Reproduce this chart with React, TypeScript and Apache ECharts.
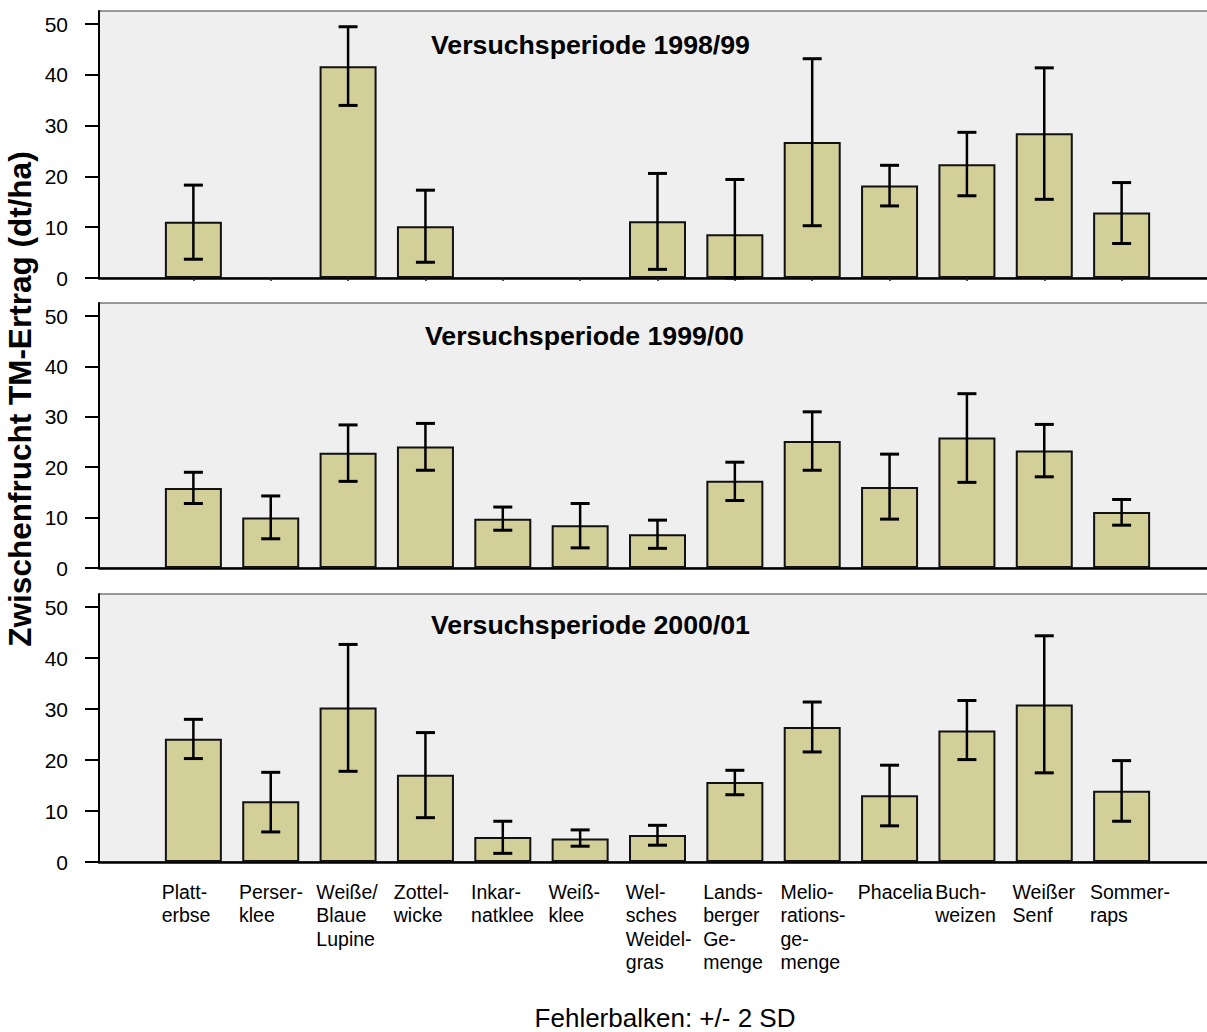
import React, { useEffect, useRef } from "react";
import * as echarts from "echarts";

const CATEGORIES = [
  "Platt-\nerbse",
  "Perser-\nklee",
  "Weiße/\nBlaue\nLupine",
  "Zottel-\nwicke",
  "Inkar-\nnatklee",
  "Weiß-\nklee",
  "Wel-\nsches\nWeidel-\ngras",
  "Lands-\nberger\nGe-\nmenge",
  "Melio-\nrations-\nge-\nmenge",
  "Phacelia",
  "Buch-\nweizen",
  "Weißer\nSenf",
  "Sommer-\nraps",
];

const PERIODS = ["Versuchsperiode 1998/99", "Versuchsperiode 1999/00", "Versuchsperiode 2000/01"];

const MEAN_9899 = [11.1, null, 41.7, 10.2, null, null, 11.2, 8.6, 26.8, 18.2, 22.4, 28.5, 12.9];
const LOW_9899 = [3.7, null, 34.0, 3.1, null, null, 1.7, 0, 10.3, 14.2, 16.2, 15.5, 6.8];
const HIGH_9899 = [18.3, null, 49.5, 17.3, null, null, 20.6, 19.4, 43.2, 22.2, 28.7, 41.4, 18.8];

const MEAN_9900 = [15.9, 10.0, 22.9, 24.1, 9.8, 8.5, 6.7, 17.3, 25.2, 16.1, 25.9, 23.3, 11.1];
const LOW_9900 = [12.8, 5.8, 17.2, 19.4, 7.5, 4.0, 3.9, 13.4, 19.4, 9.7, 17.0, 18.1, 8.5];
const HIGH_9900 = [19.0, 14.3, 28.4, 28.7, 12.1, 12.8, 9.5, 21.0, 31.0, 22.6, 34.6, 28.5, 13.6];

const MEAN_0001 = [24.2, 11.9, 30.3, 17.1, 4.9, 4.6, 5.3, 15.7, 26.5, 13.1, 25.8, 30.9, 14.0];
const LOW_0001 = [20.3, 5.9, 17.8, 8.7, 1.7, 3.1, 3.3, 13.2, 21.6, 7.1, 20.1, 17.5, 8.0];
const HIGH_0001 = [28.0, 17.6, 42.7, 25.4, 8.0, 6.3, 7.2, 18.0, 31.4, 19.0, 31.7, 44.4, 19.9];

const Y_TICKS = [0, 10, 20, 30, 40, 50];
const Y_TITLE = "Zwischenfrucht TM-Ertrag (dt/ha)";
const FOOTER = "Fehlerbalken: +/- 2 SD";

const FONT = 'Arial, "Liberation Sans", Helvetica, sans-serif';
const BAR_COLOR = "#d3cf98";
const LABEL_SHIFT = -0.41;

const PANELS = [
  { mean: MEAN_9899, low: LOW_9899, high: HIGH_9899 },
  { mean: MEAN_9900, low: LOW_9900, high: HIGH_9900 },
  { mean: MEAN_0001, low: LOW_0001, high: HIGH_0001 },
];

const GRID_LAYOUT = [
  { top: 11, height: 267, titleTop: 29.5, titleLeft: 431 },
  { top: 303, height: 265, titleTop: 320.5, titleLeft: 425 },
  { top: 594, height: 268, titleTop: 609.5, titleLeft: 431 },
];

export default function App() {
  const ref = useRef<HTMLDivElement>(null);

  useEffect(() => {
    if (!ref.current) return;
    const chart = echarts.init(ref.current, null, { renderer: "svg" });

    const catIdx = CATEGORIES.map((_, i) => i);

    const renderError = (params: any, api: any) => {
      const x = api.value(0);
      const lo = api.value(1);
      const hi = api.value(2);
      const pLo = api.coord([x, lo]);
      const pHi = api.coord([x, hi]);
      const half = 9.5;
      return {
        type: "group",
        children: [
          {
            type: "line",
            shape: { x1: pLo[0], y1: pLo[1], x2: pHi[0], y2: pHi[1] },
            style: { stroke: "#000", lineWidth: 2.5 },
          },
          {
            type: "line",
            shape: { x1: pHi[0] - half, y1: pHi[1], x2: pHi[0] + half, y2: pHi[1] },
            style: { stroke: "#000", lineWidth: 3 },
          },
          {
            type: "line",
            shape: { x1: pLo[0] - half, y1: pLo[1], x2: pLo[0] + half, y2: pLo[1] },
            style: { stroke: "#000", lineWidth: 3 },
          },
        ],
      };
    };

    const grid = GRID_LAYOUT.map((g) => ({
      left: 99,
      right: 0,
      top: g.top,
      height: g.height,
      show: true,
      backgroundColor: "#efefef",
      borderColor: "#3a3a3a",
      borderWidth: 1,
    }));

    const xAxis = GRID_LAYOUT.map((_, k) => ({
      type: "value",
      gridIndex: k,
      min: -1.22,
      max: 13.22,
      splitLine: { show: false },
      axisLine: { show: true, onZero: false, lineStyle: { color: "#000", width: 2.5 } },
      axisTick: {
        show: k === 0,
        customValues: catIdx,
        length: 3,
        lineStyle: { color: "#222", width: 1.5 },
      },
      axisLabel: {
        show: k === 2,
        customValues: catIdx.map((i) => i + LABEL_SHIFT),
        formatter: (v: number) => CATEGORIES[Math.round(v - LABEL_SHIFT)] ?? "",
        align: "left",
        verticalAlign: "top",
        margin: 18,
        fontSize: 19.5,
        lineHeight: 23.5,
        color: "#000",
        fontFamily: FONT,
        hideOverlap: false,
      },
    }));

    const yAxis = GRID_LAYOUT.map((_, k) => ({
      type: "value",
      gridIndex: k,
      min: 0,
      max: 52.6,
      splitLine: { show: false },
      axisLine: { show: true, onZero: false, lineStyle: { color: "#000", width: 2 } },
      axisTick: {
        show: true,
        customValues: Y_TICKS,
        length: 14,
        lineStyle: { color: "#000", width: 2 },
      },
      axisLabel: {
        show: true,
        customValues: Y_TICKS,
        margin: 31,
        fontSize: 21,
        color: "#000",
        fontFamily: FONT,
      },
    }));

    const series: any[] = [];
    PANELS.forEach((p, k) => {
      series.push({
        type: "bar",
        xAxisIndex: k,
        yAxisIndex: k,
        barWidth: 57,
        z: 2,
        itemStyle: { color: BAR_COLOR, borderColor: "#111", borderWidth: 2 },
        data: p.mean
          .map((v, i) => (v == null ? null : [i, v]))
          .filter((d) => d !== null),
      });
      series.push({
        type: "custom",
        xAxisIndex: k,
        yAxisIndex: k,
        z: 3,
        renderItem: renderError,
        encode: { x: 0, y: [1, 2] },
        data: p.low
          .map((lo, i) => (lo == null || p.high[i] == null ? null : [i, lo, p.high[i]]))
          .filter((d) => d !== null),
      });
    });

    const title = GRID_LAYOUT.map((g, k) => ({
      text: PERIODS[k],
      left: g.titleLeft,
      top: g.titleTop,
      padding: 0,
      textStyle: {
        fontSize: 26.7,
        fontWeight: "bold",
        color: "#000",
        fontFamily: FONT,
        lineHeight: 30,
      },
    }));

    chart.setOption({
      animation: false,
      backgroundColor: "#ffffff",
      title,
      grid,
      xAxis,
      yAxis,
      series,
      graphic: [
        {
          type: "text",
          x: 20,
          y: 399,
          rotation: Math.PI / 2,
          style: {
            text: Y_TITLE,
            fontSize: 31.5,
            fontWeight: "bold",
            fontFamily: FONT,
            fill: "#000",
            align: "center",
            verticalAlign: "middle",
          },
        },
        {
          type: "text",
          x: 665,
          y: 1018,
          style: {
            text: FOOTER,
            fontSize: 26,
            fontFamily: FONT,
            fill: "#000",
            align: "center",
            verticalAlign: "middle",
          },
        },
      ],
    });

    return () => chart.dispose();
  }, []);

  return (
    <div
      style={{
        position: "absolute",
        left: 0,
        top: 0,
        width: 1207,
        height: 1032,
        overflow: "hidden",
        background: "#fff",
      }}
    >
      <div ref={ref} style={{ width: 1216, height: 1032 }} />
    </div>
  );
}
